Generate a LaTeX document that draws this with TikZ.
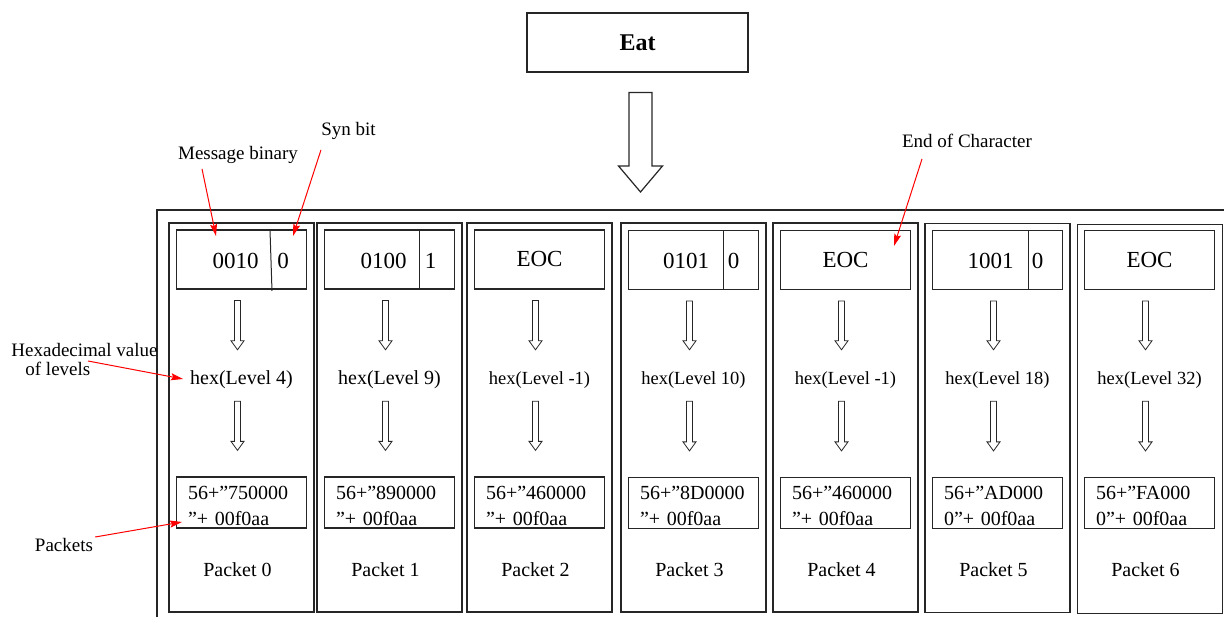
\documentclass[tikz,border=0pt]{standalone}
\usepackage{fontspec}
\setmainfont{Liberation Serif}
\usetikzlibrary{arrows.meta,calc}

\tikzset{
  framebox/.style={draw=black!85, line width=1.3pt},
  column/.style={framebox, minimum width=145pt, minimum height=389pt, inner sep=0pt},
  bitbox/.style={draw=black!85, line width=1.2pt, minimum width=130pt, minimum height=59pt, inner sep=0pt, font=\fontsize{23}{27}\selectfont},
  bits/.style={inner sep=0pt, font=\fontsize{23}{27}\selectfont},
  divider/.style={draw=black!85, line width=1pt},
  hexval/.style={minimum height=50pt, inner sep=0pt, font=\fontsize{18.5}{22}\selectfont},
  pktbox/.style={draw=black!85, line width=1.2pt, minimum height=51pt, text width=107pt, inner xsep=11.5pt, inner ysep=0pt, align=left, font=\fontsize{20}{26}\selectfont, execute at begin node={\rule{0pt}{19.5pt}}},
  pktname/.style={font=\fontsize{20}{24}\selectfont},
  note/.style={inner sep=2pt, font=\fontsize{19}{19}\selectfont},
  pointer/.style={draw=red, line width=1pt, -{Stealth[length=12pt,width=7pt,inset=2pt]}},
  hollow/.style n args={6}{to path={let \p1=(\tikztostart), \p2=(\tikztotarget) in
    (\x1+#1-#4,\y1-#2) -- (\x1+#1+#4,\y1-#2) -- (\x1+#1+#4,\y2+#3+#6) -- (\x1+#1+#5,\y2+#3+#6)
    -- (\x1+#1,\y2+#3) -- (\x1+#1-#5,\y2+#3+#6) -- (\x1+#1-#4,\y2+#3+#6) -- cycle}},
  hexarrow/.style={draw=black!85, line width=0.8pt, hollow={-4pt}{11pt}{5pt}{3pt}{6.5pt}{9pt}},
  pktarrow/.style={draw=black!85, line width=0.8pt, hollow={-4pt}{-4pt}{26pt}{3pt}{6.5pt}{9pt}},
  bigarrow/.style={draw=black!85, line width=1.2pt, hollow={3pt}{20pt}{18pt}{11.5pt}{22pt}{26pt}},
}

\begin{document}
\begin{tikzpicture}[x=1pt, y=-1pt]
\useasboundingbox (0,0) rectangle (1224,617);

% top word and the outer frame
\node[draw=black!85, line width=1.2pt, minimum width=221pt, minimum height=59pt, font=\fontsize{24}{28}\selectfont\bfseries] (eat) at (637.5,42.5) {Eat};
\coordinate (frametop) at (637.5,210);
\draw[framebox] (1224,210) -- (157,210) -- (157,617);
\draw[bigarrow] (eat.south) to (frametop);

% packet 0
\node[column] (col0) at (241.5,417.5) {};
\node[bitbox] (bin0) at (241.5,259.5) {};
\node[bits] (msg0) at (235.5,260.5) {0010};
\node[bits] (syn0) at (283,260.5) {0};
\draw[divider] (270,230) -- (272,291);
\node[hexval, font=\fontsize{20}{24}\selectfont] (hex0) at (241.5,380) {hex(Level 4)};
\node[pktbox] (pkt0) at (241.5,502.5) {56+”750000\\”+ 00f0aa};
\node[pktname] (name0) at (237.5,570) {Packet 0};
\draw[hexarrow] (bin0.south) to (hex0.north);
\draw[pktarrow] (hex0.south) to (pkt0.north);

% packet 1
\node[column] (col1) at (389.5,417.5) {};
\node[bitbox] (bin1) at (389.5,259.5) {};
\node[bits] (msg1) at (383.5,260.5) {0100};
\node[bits] (syn1) at (430.5,260.5) {1};
\draw[divider] ([xshift=29.5pt]bin1.north) -- ([xshift=29.5pt]bin1.south);
\node[hexval, font=\fontsize{20}{24}\selectfont] (hex1) at (389.5,380) {hex(Level 9)};
\node[pktbox] (pkt1) at (389.5,502.5) {56+”890000\\”+ 00f0aa};
\node[pktname] (name1) at (385.5,570) {Packet 1};
\draw[hexarrow] (bin1.south) to (hex1.north);
\draw[pktarrow] (hex1.south) to (pkt1.north);

% packet 2
\node[column] (col2) at (539.5,417.5) {};
\node[bitbox] (bin2) at (539.5,259.5) {EOC};
\node[hexval] (hex2) at (539.5,380) {hex(Level -1)};
\node[pktbox] (pkt2) at (539.5,502.5) {56+”460000\\”+ 00f0aa};
\node[pktname] (name2) at (535.5,570) {Packet 2};
\draw[hexarrow] (bin2.south) to (hex2.north);
\draw[pktarrow] (hex2.south) to (pkt2.north);

% packet 3
\node[column] (col3) at (693.5,417.5) {};
\node[bitbox] (bin3) at (693.5,260) {};
\node[bits] (msg3) at (686,261) {0101};
\node[bits] (syn3) at (733.5,261) {0};
\draw[divider] ([xshift=29.5pt]bin3.north) -- ([xshift=29.5pt]bin3.south);
\node[hexval] (hex3) at (693.5,380) {hex(Level 10)};
\node[pktbox] (pkt3) at (693.5,503) {56+”8D0000\\”+ 00f0aa};
\node[pktname] (name3) at (689.5,570) {Packet 3};
\draw[hexarrow] (bin3.south) to (hex3.north);
\draw[pktarrow] (hex3.south) to (pkt3.north);

% packet 4
\node[column] (col4) at (845.5,417.5) {};
\node[bitbox] (bin4) at (845.5,260) {EOC};
\node[hexval] (hex4) at (845.5,380) {hex(Level -1)};
\node[pktbox] (pkt4) at (845.5,503) {56+”460000\\”+ 00f0aa};
\node[pktname] (name4) at (841.5,570) {Packet 4};
\draw[hexarrow] (bin4.south) to (hex4.north);
\draw[pktarrow] (hex4.south) to (pkt4.north);

% packet 5
\node[column] (col5) at (997.5,418) {};
\node[bitbox] (bin5) at (997.5,260) {};
\node[bits] (msg5) at (990.5,261) {1001};
\node[bits] (syn5) at (1037.5,261) {0};
\draw[divider] ([xshift=30.5pt]bin5.north) -- ([xshift=30.5pt]bin5.south);
\node[hexval] (hex5) at (997.5,380) {hex(Level 18)};
\node[pktbox] (pkt5) at (997.5,503) {56+”AD000\\0”+ 00f0aa};
\node[pktname] (name5) at (993.5,570) {Packet 5};
\draw[hexarrow] (bin5.south) to (hex5.north);
\draw[pktarrow] (hex5.south) to (pkt5.north);

% packet 6
\node[column] (col6) at (1150,419) {};
\node[bitbox] (bin6) at (1149.5,260) {EOC};
\node[hexval] (hex6) at (1149.5,380) {hex(Level 32)};
\node[pktbox] (pkt6) at (1149.5,503) {56+”FA000\\0”+ 00f0aa};
\node[pktname] (name6) at (1145.5,570) {Packet 6};
\draw[hexarrow] (bin6.south) to (hex6.north);
\draw[pktarrow] (hex6.south) to (pkt6.north);

% red notes
\node[note] (lmsg) at (238,155) {Message binary};
\node[note] (lsyn) at (348.5,131) {Syn bit};
\node[note] (leoc) at (967,141) {End of Character};
\node[note, align=left] (lhex) at (84.5,360) {Hexadecimal value\\\hspace*{14pt}of levels};
\node[note] (lpkts) at (64,545) {Packets};
\coordinate (pmsg) at (216,236);
\coordinate (psyn) at (293,236);
\coordinate (peoc) at (894,246);
\coordinate (phex) at (183,379);
\coordinate (ppkt) at (182,522);
\draw[pointer] ([xshift=-36pt,yshift=-3pt]lmsg.south) -- (pmsg);
\draw[pointer] ([xshift=-27.5pt,yshift=-8pt]lsyn.south) -- (psyn);
\draw[pointer] ([xshift=-45pt,yshift=-9pt]leoc.south) -- (peoc);
\draw[pointer] ([xshift=3.5pt,yshift=-1pt]lhex.center) -- (phex);
\draw[pointer] ([yshift=8pt]lpkts.east) -- (ppkt);
\end{tikzpicture}
\end{document}
